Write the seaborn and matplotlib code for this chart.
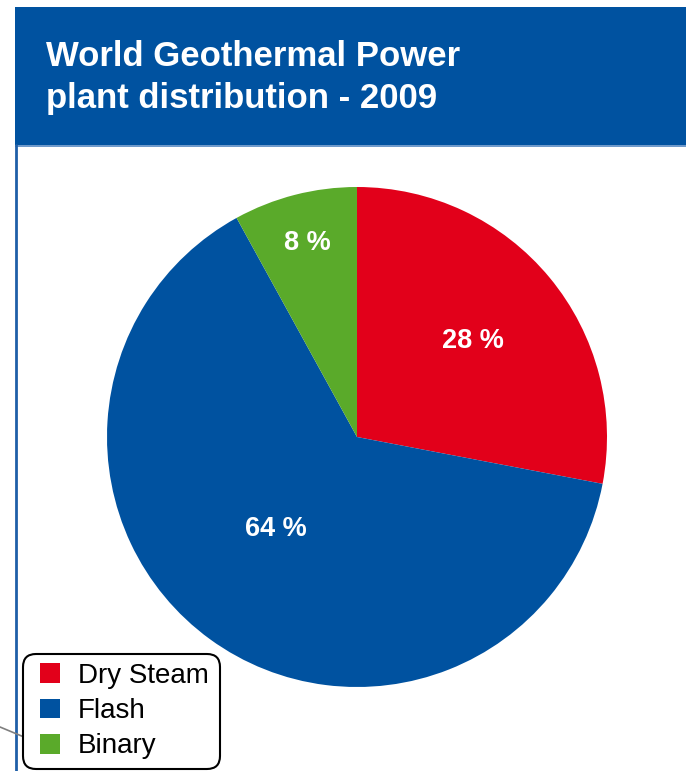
import matplotlib
matplotlib.use("Agg")
import numpy as np
import matplotlib.pyplot as plt
import seaborn as sns
from matplotlib.patches import Rectangle, Patch, FancyBboxPatch
from matplotlib.lines import Line2D

categories = ["Dry Steam", "Flash", "Binary"]
shares = [28, 64, 8]
colors = ["#E2001A", "#0052A0", "#5AAA2A"]
label_radius = [0.60, 0.49, 0.80]
label_angle_shift = [0.0, -5.5, 0.0]
title_lines = ["World Geothermal Power", "plant distribution - 2009"]

sns.set_theme(style="white")
plt.rcParams["font.family"] = ["Liberation Sans", "DejaVu Sans"]
plt.rcParams["text.color"] = "black"

W, H = 686, 771
fig = plt.figure(figsize=(W / 100, H / 100), dpi=100)
fig.patch.set_facecolor("white")

def fx(px):
    return px / W

def fy(py):
    return 1 - py / H

# header band
fig.patches.append(Rectangle((fx(15), fy(145)), 1 - fx(15), fy(7) - fy(145),
                             transform=fig.transFigure, facecolor="#0052A0",
                             edgecolor="none", zorder=0))
fig.patches.append(Rectangle((fx(15), fy(147)), 1 - fx(15), fy(145) - fy(147),
                             transform=fig.transFigure, facecolor="#6F9ACB",
                             edgecolor="none", zorder=0))
# left border
fig.lines.append(Line2D([fx(16), fx(16)], [0, fy(145)], transform=fig.transFigure,
                        color="#1F5FA8", lw=2.0))
# connector line
fig.lines.append(Line2D([fx(0), fx(24)], [fy(727), fy(737)], transform=fig.transFigure,
                        color="#7F7F7F", lw=1.2))

fig.text(fx(46), fy(66), title_lines[0], color="white", fontsize=25,
         fontweight="bold", ha="left", va="baseline")
fig.text(fx(46), fy(108), title_lines[1], color="white", fontsize=25,
         fontweight="bold", ha="left", va="baseline")

# pie
cx, cy, R = 357, 437, 250
ax = fig.add_axes([fx(cx - R), fy(cy + R), 2 * R / W, 2 * R / H])
wedges, texts, autotexts = ax.pie(shares, colors=colors, startangle=90,
                                  counterclock=False, radius=1,
                                  autopct=lambda p: f"{p:.0f} %", pctdistance=1.0,
                                  wedgeprops=dict(linewidth=0))
for t, r, da in zip(autotexts, label_radius, label_angle_shift):
    x, y = t.get_position()
    ang = np.arctan2(y, x) + np.deg2rad(da)
    t.set_position((r * np.cos(ang), r * np.sin(ang)))
    t.set_color("white")
    t.set_fontsize(19.5)
    t.set_fontweight("bold")
ax.set_xlim(-1, 1)
ax.set_ylim(-1, 1)
ax.set_aspect("equal")
ax.axis("off")

# legend frame (inches from bottom-left)
fig.patches.append(FancyBboxPatch((0.23, 0.02), 1.97, 1.15,
                                  boxstyle="round,pad=0,rounding_size=0.13",
                                  transform=fig.dpi_scale_trans, facecolor="white",
                                  edgecolor="black", linewidth=1.5, zorder=5))
handles = [Patch(facecolor=c, edgecolor="none") for c in colors]
leg = fig.legend(handles, categories, loc="upper left",
                 bbox_to_anchor=(fx(40), fy(663)), bbox_transform=fig.transFigure,
                 frameon=False, fontsize=20, handlelength=0.72, handleheight=0.72,
                 handletextpad=0.65, labelspacing=0.33, borderpad=0,
                 borderaxespad=0, labelcolor="black")
leg.set_zorder(6)

fig.savefig("out.png", dpi=100)
